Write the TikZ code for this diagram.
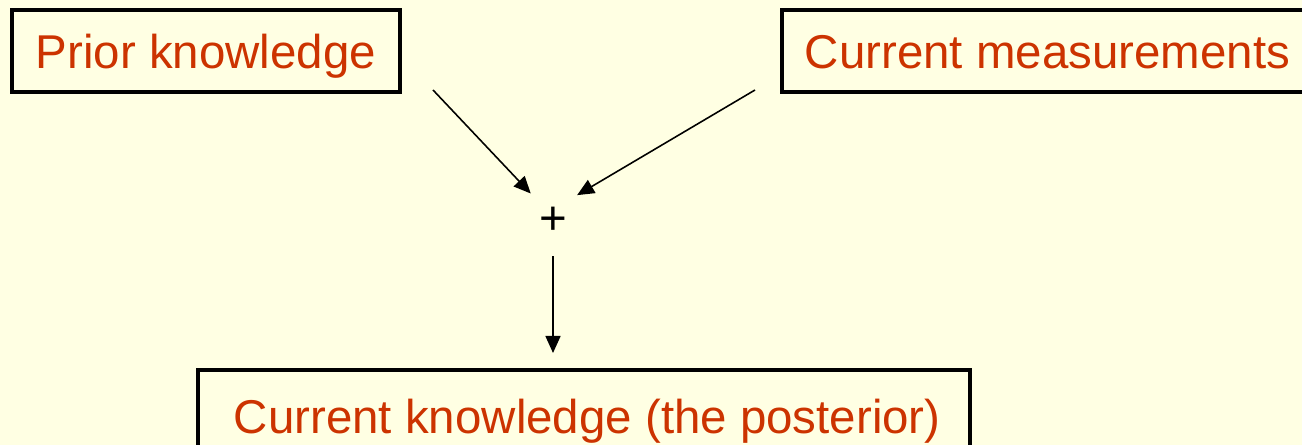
\documentclass[tikz,border=0pt]{standalone}
\usepackage{fontspec}
\setmainfont{Liberation Sans}
\usepackage{xcolor}
\usepackage{tikz}
\usetikzlibrary{arrows.meta, positioning, shapes.geometric}
\definecolor{kbg}{HTML}{FFFFE3}
\definecolor{kred}{HTML}{CC3300}

\begin{document}
\begin{tikzpicture}[x=1cm, y=1cm,
  kbox/.style={draw=black, line width=2.2pt, fill=kbg, text=kred,
    font=\fontsize{27}{32}\selectfont, inner ysep=0pt,
    text height=1.18cm, text depth=0.46cm},
  flow/.style={-{Triangle[length=0.34cm, width=0.3cm]}, line width=0.9pt}]
\useasboundingbox (0,0) rectangle (26.04,8.9);
\fill[kbg] (0,0) rectangle (26.04,8.9);
\node[kbox, anchor=base, minimum width=7.76cm] (prior) at (4.12,7.52) {Prior knowledge};
\node[kbox, anchor=base west, inner xsep=0.46cm] (meas) at (15.6,7.52) {Current measurements};
\node[circle, minimum size=1.4cm, inner sep=0pt, font=\fontsize{27}{32}\selectfont] (plus) at (11.06,4.48) {+};
\node[kbox, anchor=north west, inner xsep=0.5cm, text width=14.44cm, align=flush left,
  text height=1.28cm] (post) at (3.92,1.54) {\hspace*{0.22cm}Current knowledge (the posterior)};
\coordinate (priorout) at (8.66,7.1);
\coordinate (measout) at (15.1,7.1);
\draw[flow] (priorout) -- (plus.129);
\draw[flow] (measout) -- (plus.47);
\draw[flow, shorten >=0.3cm] (plus.south) -- (plus.south |- post.north);
\end{tikzpicture}
\end{document}
